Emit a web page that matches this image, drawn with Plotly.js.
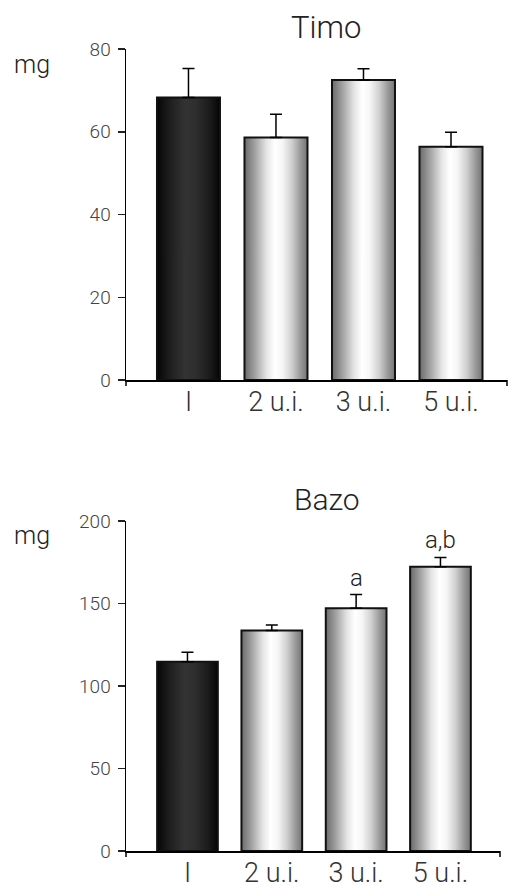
<!DOCTYPE html>
<html>
<head>
<meta charset="utf-8">
<script src="https://cdn.plot.ly/plotly-3.0.1.min.js"></script>
<style>
  html, body { margin: 0; padding: 0; background: #fff; }
  #chart { width: 508px; height: 891px; }
</style>
</head>
<body>
<div id="chart"></div>
<script>
// Organ weights (mg) per treatment group
const categories = ['I', '2 u.i.', '3 u.i.', '5 u.i.'];
const timoMean = [68.3, 58.6, 72.5, 56.4];
const timoSem = [7.0, 5.6, 2.7, 3.5];
const bazoMean = [114.7, 133.7, 147.1, 172.2];
const bazoSem = [5.8, 3.3, 8.3, 5.7];
const bazoMarks = ['', '', 'a', 'a,b'];
const timoTicks = [0, 20, 40, 60, 80];
const bazoTicks = [0, 50, 100, 150, 200];

// Shading of each bar: control group dark, treated groups light
const barShade = ['dark', 'light', 'light', 'light'];

const FONT = 'Roboto, "Liberation Sans", sans-serif';
const W = 508, H = 891;
const M = { l: 126, r: 1, t: 49, b: 40 };
const plotH = H - M.t - M.b;
const py = p => (H - M.b - p) / plotH;           // pixel row -> paper y
const px = p => (p - M.l) / (W - M.l - M.r);      // pixel col -> paper x

function barTrace(mean, sem, xa, ya) {
  return {
    type: 'bar',
    x: categories,
    y: mean,
    xaxis: xa,
    yaxis: ya,
    width: 0.72,
    marker: { color: '#bbbbbb', line: { color: '#111', width: 2 } },
    error_y: {
      type: 'data', symmetric: false, array: sem,
      arrayminus: sem.map(() => 0),
      color: '#000', thickness: 1.5, width: 6
    },
    hoverinfo: 'skip'
  };
}

const yBase = {
  showline: true, linecolor: '#000', linewidth: 1.5,
  ticks: 'outside', ticklen: 7, tickwidth: 1.5, tickcolor: '#222',
  showgrid: false, zeroline: false,
  tickfont: { family: FONT, size: 19, color: '#444', weight: 300 },
  ticklabelstandoff: 3
};
const xBase = {
  type: 'category',
  showline: true, linecolor: '#000', linewidth: 1.5,
  ticks: '', showgrid: false, zeroline: false,
  tickfont: { family: FONT, size: 27, color: '#333', weight: 300 },
  ticklabelstandoff: -3
};

function label(text, x, y, size) {
  return {
    text: text, xref: 'paper', yref: 'paper', x: px(x), y: py(y),
    xanchor: 'center', yanchor: 'middle', showarrow: false,
    font: { family: FONT, size: size, color: '#222', weight: 300 }
  };
}

const layout = {
  width: W, height: H,
  margin: M,
  paper_bgcolor: '#fff', plot_bgcolor: '#fff',
  showlegend: false,
  xaxis: Object.assign({}, xBase, { domain: [0, 1], range: [-0.714, 3.64], anchor: 'y' }),
  yaxis: Object.assign({}, yBase, {
    domain: [py(380), 1], range: [0, 80], tickvals: timoTicks, anchor: 'x'
  }),
  xaxis2: Object.assign({}, xBase, { domain: [0, px(500)], range: [-0.729, 3.706], anchor: 'y2' }),
  yaxis2: Object.assign({}, yBase, {
    domain: [0, py(521)], range: [0, 200], tickvals: bazoTicks, anchor: 'x2'
  }),
  annotations: [
    label('Timo', 326, 27, 31),
    label('Bazo', 327, 499, 30),
    label('mg', 32, 64, 25),
    label('mg', 32, 535, 25)
  ].concat(bazoMarks.map((m, i) => ({
    text: m, x: categories[i], y: bazoMean[i] + bazoSem[i],
    xref: 'x2', yref: 'y2', xanchor: 'center', yanchor: 'bottom', showarrow: false, yshift: 1,
    font: { family: FONT, size: 24, color: '#222', weight: 300 }
  })).filter(a => a.text)),
  shapes: [
    // end ticks under the category axes
    { type: 'line', xref: 'x domain', yref: 'paper', x0: 0, x1: 0, y0: py(380), y1: py(386),
      line: { color: '#000', width: 1.5 } },
    { type: 'line', xref: 'x domain', yref: 'paper', x0: 1, x1: 1, y0: py(380), y1: py(386),
      line: { color: '#000', width: 1.5 } },
    { type: 'line', xref: 'x2 domain', yref: 'paper', x0: 0, x1: 0, y0: py(851), y1: py(857),
      line: { color: '#000', width: 1.5 } },
    { type: 'line', xref: 'x2 domain', yref: 'paper', x0: 1, x1: 1, y0: py(851), y1: py(857),
      line: { color: '#000', width: 1.5 } }
  ]
};

const data = [
  barTrace(timoMean, timoSem, 'x', 'y'),
  barTrace(bazoMean, bazoSem, 'x2', 'y2')
];

// Cylinder-like horizontal shading for the bars
const gradients = {
  dark: [[0, '#050505'], [0.2, '#1e1e1e'], [0.45, '#333333'], [0.62, '#2e2e2e'], [0.85, '#1a1a1a'], [1, '#050505']],
  light: [[0, '#6a6a6a'], [0.15, '#9c9c9c'], [0.35, '#e4e4e4'], [0.48, '#ffffff'], [0.6, '#f6f6f6'],
          [0.75, '#cfcfcf'], [0.9, '#959595'], [1, '#737373']]
};

function applyShading(gd) {
  const svg = gd.querySelector('svg.main-svg');
  const NS = 'http://www.w3.org/2000/svg';
  let defs = svg.querySelector('defs');
  if (!defs) { defs = document.createElementNS(NS, 'defs'); svg.insertBefore(defs, svg.firstChild); }
  Object.keys(gradients).forEach(k => {
    const g = document.createElementNS(NS, 'linearGradient');
    g.setAttribute('id', 'shade-' + k);
    g.setAttribute('x1', '0'); g.setAttribute('x2', '1');
    g.setAttribute('y1', '0'); g.setAttribute('y2', '0');
    gradients[k].forEach(([o, c]) => {
      const s = document.createElementNS(NS, 'stop');
      s.setAttribute('offset', o);
      s.setAttribute('stop-color', c);
      g.appendChild(s);
    });
    defs.appendChild(g);
  });
  gd.querySelectorAll('.barlayer .trace').forEach(tr => {
    tr.querySelectorAll('.point path').forEach((p, i) => {
      p.style.fill = 'url(#shade-' + barShade[i] + ')';
    });
  });
}

Plotly.newPlot('chart', data, layout, { staticPlot: true }).then(applyShading);
</script>
</body>
</html>
